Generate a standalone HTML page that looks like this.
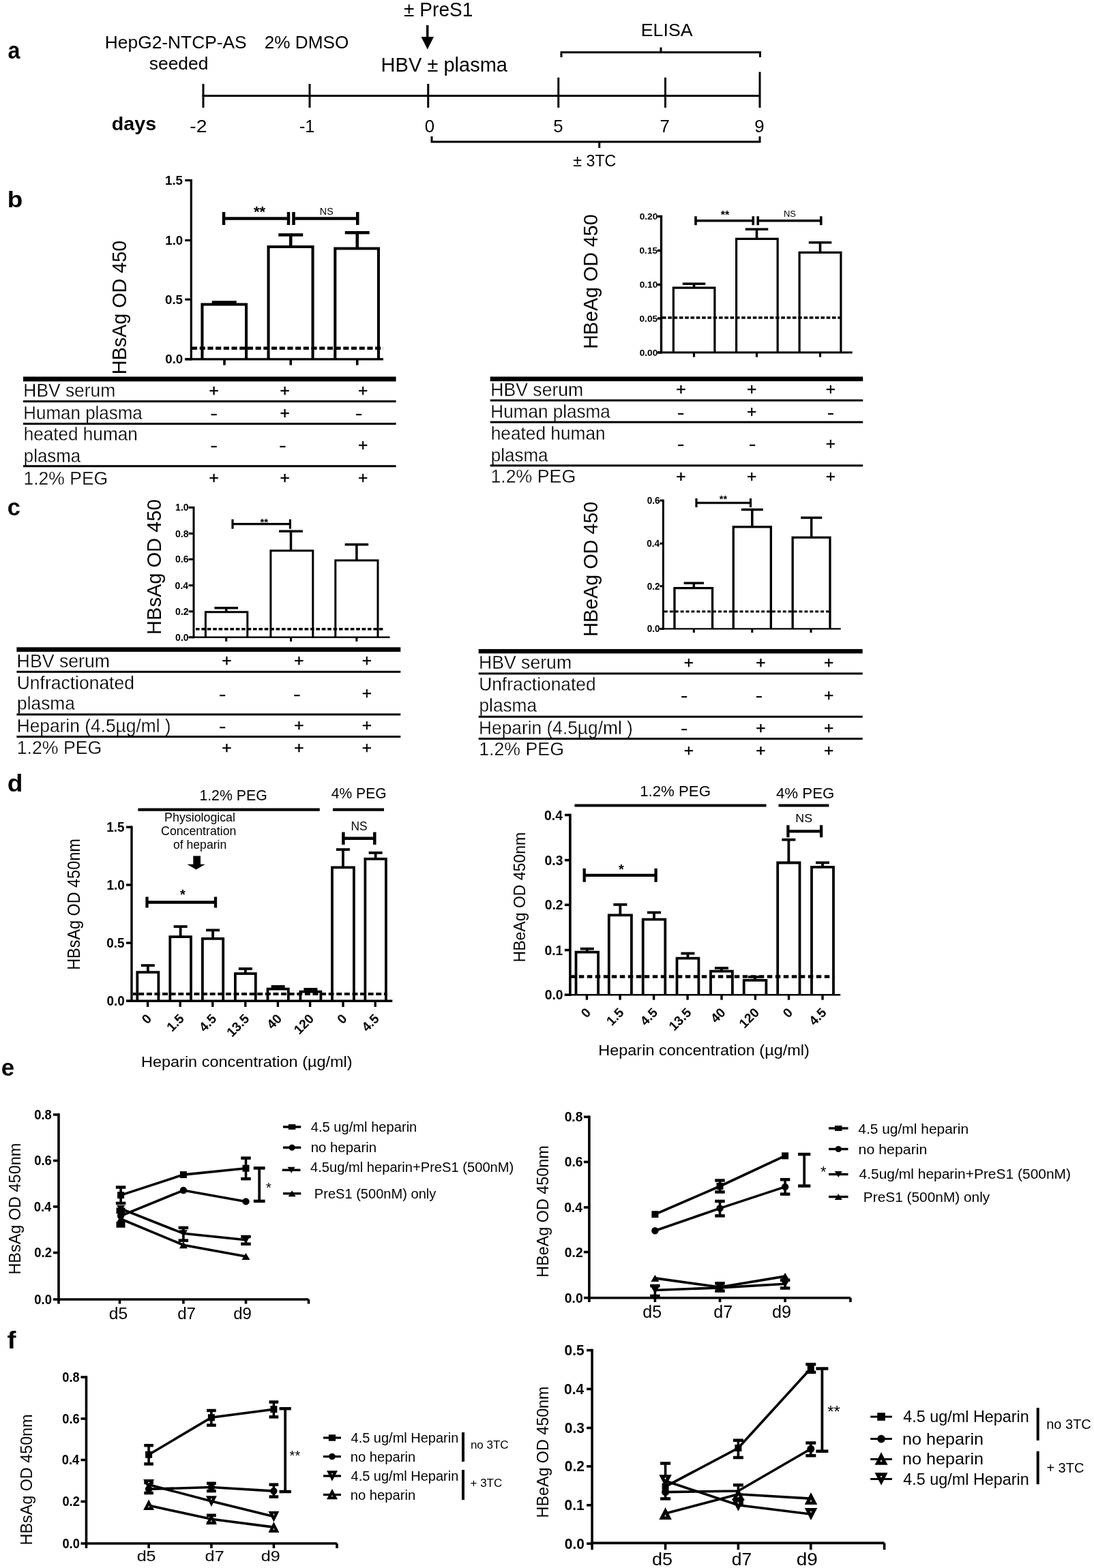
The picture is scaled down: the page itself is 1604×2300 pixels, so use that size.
<!DOCTYPE html>
<html><head><meta charset="utf-8"><title>Figure</title>
<style>
html,body{margin:0;padding:0;background:#fff;}
svg{display:block;}
svg text{font-family:"Liberation Sans",Arial,sans-serif;fill:#000;stroke:none;}
svg text.th{stroke:#fff;stroke-width:0.3px;paint-order:fill;}
svg text.pm{stroke:#000;stroke-width:0.4px;}
</style></head><body>
<svg width="1604" height="2300" viewBox="0 0 1604 2300" stroke="#000" stroke-linecap="butt">
<rect x="0" y="0" width="1604" height="2300" fill="#fff" stroke="none"/>
<text x="11.45" y="85.76" font-size="34.86" font-weight="bold" textLength="17.94" lengthAdjust="spacingAndGlyphs" >a</text>
<text x="153.84" y="70.75" font-size="25.8" textLength="207.87" lengthAdjust="spacingAndGlyphs" >HepG2-NTCP-AS</text>
<text x="218.76" y="101.75" font-size="25.8" textLength="86.69" lengthAdjust="spacingAndGlyphs" >seeded</text>
<text x="387.68" y="70.50" font-size="25.8" textLength="123.57" lengthAdjust="spacingAndGlyphs" >2% DMSO</text>
<text x="592.11" y="24.25" font-size="28.7" textLength="101.26" lengthAdjust="spacingAndGlyphs" >± PreS1</text>
<text x="558.62" y="104.50" font-size="29" textLength="185.38" lengthAdjust="spacingAndGlyphs" >HBV ± plasma</text>
<text x="163.82" y="191.00" font-size="27.5" font-weight="bold" textLength="65.35" lengthAdjust="spacingAndGlyphs" >days</text>
<text x="278.24" y="193.75" font-size="25.8" textLength="25.18" lengthAdjust="spacingAndGlyphs" >-2</text>
<text x="438.88" y="193.75" font-size="25.8" textLength="22.34" lengthAdjust="spacingAndGlyphs" >-1</text>
<text x="622.83" y="193.75" font-size="25.8" >0</text>
<text x="811.35" y="193.75" font-size="25.8" >5</text>
<text x="967.41" y="193.75" font-size="25.8" >7</text>
<text x="1106.33" y="193.75" font-size="25.8" >9</text>
<text x="939.81" y="53.25" font-size="25.4" textLength="75.74" lengthAdjust="spacingAndGlyphs" >ELISA</text>
<text x="840.26" y="243.75" font-size="24.3" textLength="63.12" lengthAdjust="spacingAndGlyphs" >± 3TC</text>
<text x="10.67" y="304.47" font-size="33.91" font-weight="bold" textLength="22.55" lengthAdjust="spacingAndGlyphs" >b</text>
<text x="242.02" y="270.84" font-size="18.7" font-weight="bold" >1.5</text>
<text x="242.27" y="358.94" font-size="18.7" font-weight="bold" >1.0</text>
<text x="242.02" y="445.69" font-size="18.7" font-weight="bold" >0.5</text>
<text x="242.27" y="533.34" font-size="18.7" font-weight="bold" >0.0</text>
<text x="372.02" y="317.94" font-size="22" font-weight="bold" >**</text>
<text x="468.83" y="314.50" font-size="14.5" textLength="19.83" lengthAdjust="spacingAndGlyphs" >NS</text>
<text class="v" transform="translate(184.70,546.90) rotate(-90)" x="-2.36" y="0" font-size="29.9" textLength="196.48" lengthAdjust="spacingAndGlyphs">HBsAg OD 450</text>
<text class="th" x="34.34" y="581.90" font-size="27.3" textLength="134.90" lengthAdjust="spacingAndGlyphs" >HBV serum</text>
<text class="th" x="34.37" y="614.75" font-size="27.3" textLength="174.38" lengthAdjust="spacingAndGlyphs" >Human plasma</text>
<text class="th" x="34.69" y="646.25" font-size="27.3" textLength="167.01" lengthAdjust="spacingAndGlyphs" >heated human</text>
<text class="th" x="34.84" y="677.50" font-size="27.3" textLength="83.16" lengthAdjust="spacingAndGlyphs" >plasma</text>
<text class="th" x="34.48" y="710.70" font-size="27.3" textLength="123.75" lengthAdjust="spacingAndGlyphs" >1.2% PEG</text>
<text class="pm" x="306.45" y="581.35" font-size="24.5">+</text>
<text class="pm" x="306.45" y="708.85" font-size="24.5">+</text>
<text class="pm" x="410.55" y="581.35" font-size="24.5">+</text>
<text class="pm" x="410.55" y="708.85" font-size="24.5">+</text>
<text class="pm" x="525.05" y="581.35" font-size="24.5">+</text>
<text class="pm" x="525.05" y="708.85" font-size="24.5">+</text>
<text class="pm" x="308.42" y="614.31" font-size="24.5" textLength="10.37" lengthAdjust="spacingAndGlyphs">-</text>
<text class="pm" x="410.55" y="613.75" font-size="24.5">+</text>
<text class="pm" x="520.92" y="614.31" font-size="24.5" textLength="10.37" lengthAdjust="spacingAndGlyphs">-</text>
<text class="pm" x="308.42" y="660.81" font-size="24.5" textLength="10.37" lengthAdjust="spacingAndGlyphs">-</text>
<text class="pm" x="409.22" y="660.81" font-size="24.5" textLength="10.37" lengthAdjust="spacingAndGlyphs">-</text>
<text class="pm" x="525.05" y="660.75" font-size="24.5">+</text>
<text x="937.65" y="322.22" font-size="13.7" font-weight="bold" >0.20</text>
<text x="937.47" y="372.22" font-size="13.7" font-weight="bold" >0.15</text>
<text x="937.65" y="422.22" font-size="13.7" font-weight="bold" >0.10</text>
<text x="937.47" y="471.72" font-size="13.7" font-weight="bold" >0.05</text>
<text x="937.65" y="521.72" font-size="13.7" font-weight="bold" >0.00</text>
<text x="1056.66" y="321.03" font-size="16" font-weight="bold" >**</text>
<text x="1148.94" y="318.00" font-size="13" textLength="17.90" lengthAdjust="spacingAndGlyphs" >NS</text>
<text class="v" transform="translate(875.80,509.50) rotate(-90)" x="-2.35" y="0" font-size="29.8" textLength="197.47" lengthAdjust="spacingAndGlyphs">HBeAg OD 450</text>
<text class="th" x="719.32" y="581.20" font-size="27.3" textLength="135.93" lengthAdjust="spacingAndGlyphs" >HBV serum</text>
<text class="th" x="719.36" y="613.40" font-size="27.3" textLength="175.44" lengthAdjust="spacingAndGlyphs" >Human plasma</text>
<text class="th" x="719.68" y="645.20" font-size="27.3" textLength="168.03" lengthAdjust="spacingAndGlyphs" >heated human</text>
<text class="th" x="719.83" y="676.60" font-size="27.3" textLength="83.67" lengthAdjust="spacingAndGlyphs" >plasma</text>
<text class="th" x="719.47" y="707.80" font-size="27.3" textLength="124.73" lengthAdjust="spacingAndGlyphs" >1.2% PEG</text>
<text class="pm" x="991.15" y="579.35" font-size="24.5">+</text>
<text class="pm" x="991.15" y="706.85" font-size="24.5">+</text>
<text class="pm" x="1095.05" y="579.35" font-size="24.5">+</text>
<text class="pm" x="1095.05" y="706.85" font-size="24.5">+</text>
<text class="pm" x="1210.85" y="579.35" font-size="24.5">+</text>
<text class="pm" x="1210.85" y="706.85" font-size="24.5">+</text>
<text class="pm" x="993.12" y="612.61" font-size="24.5" textLength="10.37" lengthAdjust="spacingAndGlyphs">-</text>
<text class="pm" x="1095.05" y="612.35" font-size="24.5">+</text>
<text class="pm" x="1212.82" y="612.61" font-size="24.5" textLength="10.37" lengthAdjust="spacingAndGlyphs">-</text>
<text class="pm" x="993.12" y="659.41" font-size="24.5" textLength="10.37" lengthAdjust="spacingAndGlyphs">-</text>
<text class="pm" x="1098.12" y="659.41" font-size="24.5" textLength="10.37" lengthAdjust="spacingAndGlyphs">-</text>
<text class="pm" x="1210.85" y="659.15" font-size="24.5">+</text>
<text x="10.85" y="756.16" font-size="34.5" font-weight="bold" textLength="19.15" lengthAdjust="spacingAndGlyphs" >c</text>
<text x="257.12" y="749.46" font-size="14.7" font-weight="bold" textLength="19.45" lengthAdjust="spacingAndGlyphs" >1.0</text>
<text x="256.98" y="787.66" font-size="14.7" font-weight="bold" textLength="19.45" lengthAdjust="spacingAndGlyphs" >0.8</text>
<text x="257.05" y="825.46" font-size="14.7" font-weight="bold" textLength="19.45" lengthAdjust="spacingAndGlyphs" >0.6</text>
<text x="256.62" y="863.76" font-size="14.7" font-weight="bold" textLength="19.45" lengthAdjust="spacingAndGlyphs" >0.4</text>
<text x="257.11" y="901.96" font-size="14.7" font-weight="bold" textLength="19.45" lengthAdjust="spacingAndGlyphs" >0.2</text>
<text x="257.12" y="939.86" font-size="14.7" font-weight="bold" textLength="19.45" lengthAdjust="spacingAndGlyphs" >0.0</text>
<text x="381.45" y="770.63" font-size="15" font-weight="bold" >**</text>
<text class="v" transform="translate(235.80,928.50) rotate(-90)" x="-2.38" y="0" font-size="29.5" textLength="198.41" lengthAdjust="spacingAndGlyphs">HBsAg OD 450</text>
<text class="th" x="24.61" y="978.60" font-size="27.3" textLength="136.45" lengthAdjust="spacingAndGlyphs" >HBV serum</text>
<text class="th" x="24.76" y="1010.50" font-size="27.3" textLength="172.15" lengthAdjust="spacingAndGlyphs" >Unfractionated</text>
<text class="th" x="25.11" y="1041.40" font-size="27.3" textLength="84.69" lengthAdjust="spacingAndGlyphs" >plasma</text>
<text class="th" x="24.64" y="1073.70" font-size="27.3" textLength="225.99" lengthAdjust="spacingAndGlyphs" >Heparin (4.5µg/ml )</text>
<text class="th" x="24.77" y="1106.30" font-size="27.3" textLength="124.42" lengthAdjust="spacingAndGlyphs" >1.2% PEG</text>
<text class="pm" x="325.35" y="977.35" font-size="24.5">+</text>
<text class="pm" x="325.35" y="1104.85" font-size="24.5">+</text>
<text class="pm" x="431.35" y="977.35" font-size="24.5">+</text>
<text class="pm" x="431.35" y="1104.85" font-size="24.5">+</text>
<text class="pm" x="530.75" y="977.35" font-size="24.5">+</text>
<text class="pm" x="530.75" y="1104.85" font-size="24.5">+</text>
<text class="pm" x="320.92" y="1026.41" font-size="24.5" textLength="10.37" lengthAdjust="spacingAndGlyphs">-</text>
<text class="pm" x="430.32" y="1026.41" font-size="24.5" textLength="10.37" lengthAdjust="spacingAndGlyphs">-</text>
<text class="pm" x="530.75" y="1025.35" font-size="24.5">+</text>
<text class="pm" x="320.92" y="1073.21" font-size="24.5" textLength="10.37" lengthAdjust="spacingAndGlyphs">-</text>
<text class="pm" x="431.35" y="1072.25" font-size="24.5">+</text>
<text class="pm" x="530.75" y="1072.25" font-size="24.5">+</text>
<text x="948.67" y="739.26" font-size="14.7" font-weight="bold" textLength="18.82" lengthAdjust="spacingAndGlyphs" >0.6</text>
<text x="948.25" y="802.26" font-size="14.7" font-weight="bold" textLength="18.82" lengthAdjust="spacingAndGlyphs" >0.4</text>
<text x="948.72" y="864.86" font-size="14.7" font-weight="bold" textLength="18.82" lengthAdjust="spacingAndGlyphs" >0.2</text>
<text x="948.73" y="927.46" font-size="14.7" font-weight="bold" textLength="18.82" lengthAdjust="spacingAndGlyphs" >0.0</text>
<text x="1054.74" y="736.78" font-size="14.5" font-weight="bold" >**</text>
<text class="v" transform="translate(875.80,931.40) rotate(-90)" x="-2.36" y="0" font-size="29.8" textLength="197.88" lengthAdjust="spacingAndGlyphs">HBeAg OD 450</text>
<text class="th" x="702.02" y="981.10" font-size="27.3" textLength="136.04" lengthAdjust="spacingAndGlyphs" >HBV serum</text>
<text class="th" x="702.17" y="1013.00" font-size="27.3" textLength="171.53" lengthAdjust="spacingAndGlyphs" >Unfractionated</text>
<text class="th" x="702.51" y="1044.30" font-size="27.3" textLength="84.49" lengthAdjust="spacingAndGlyphs" >plasma</text>
<text class="th" x="702.04" y="1076.50" font-size="27.3" textLength="225.79" lengthAdjust="spacingAndGlyphs" >Heparin (4.5µg/ml )</text>
<text class="th" x="702.16" y="1108.40" font-size="27.3" textLength="124.83" lengthAdjust="spacingAndGlyphs" >1.2% PEG</text>
<text class="pm" x="1002.65" y="980.35" font-size="24.5">+</text>
<text class="pm" x="1002.65" y="1108.55" font-size="24.5">+</text>
<text class="pm" x="1108.35" y="980.35" font-size="24.5">+</text>
<text class="pm" x="1108.35" y="1108.55" font-size="24.5">+</text>
<text class="pm" x="1208.05" y="980.35" font-size="24.5">+</text>
<text class="pm" x="1208.05" y="1108.55" font-size="24.5">+</text>
<text class="pm" x="997.92" y="1028.21" font-size="24.5" textLength="10.37" lengthAdjust="spacingAndGlyphs">-</text>
<text class="pm" x="1107.72" y="1028.21" font-size="24.5" textLength="10.37" lengthAdjust="spacingAndGlyphs">-</text>
<text class="pm" x="1208.05" y="1028.05" font-size="24.5">+</text>
<text class="pm" x="997.92" y="1076.21" font-size="24.5" textLength="10.37" lengthAdjust="spacingAndGlyphs">-</text>
<text class="pm" x="1108.35" y="1075.95" font-size="24.5">+</text>
<text class="pm" x="1208.05" y="1075.95" font-size="24.5">+</text>
<text x="10.68" y="1161.16" font-size="34.66" font-weight="bold" textLength="22.67" lengthAdjust="spacingAndGlyphs" >d</text>
<text x="156.13" y="1219.81" font-size="19.5" font-weight="bold" textLength="26.29" lengthAdjust="spacingAndGlyphs" >1.5</text>
<text x="156.38" y="1304.71" font-size="19.5" font-weight="bold" textLength="26.29" lengthAdjust="spacingAndGlyphs" >1.0</text>
<text x="156.13" y="1389.81" font-size="19.5" font-weight="bold" textLength="26.29" lengthAdjust="spacingAndGlyphs" >0.5</text>
<text x="156.38" y="1475.01" font-size="19.5" font-weight="bold" textLength="26.29" lengthAdjust="spacingAndGlyphs" >0.0</text>
<text transform="rotate(-45 223.40 1495.50)" x="223.40" y="1495.50" font-size="19.2" font-weight="bold" text-anchor="end">0</text>
<text transform="rotate(-45 271.00 1495.50)" x="271.00" y="1495.50" font-size="19.2" font-weight="bold" text-anchor="end">1.5</text>
<text transform="rotate(-45 318.60 1495.50)" x="318.60" y="1495.50" font-size="19.2" font-weight="bold" text-anchor="end">4.5</text>
<text transform="rotate(-45 366.60 1495.50)" x="366.60" y="1495.50" font-size="19.2" font-weight="bold" text-anchor="end">13.5</text>
<text transform="rotate(-45 414.20 1495.50)" x="414.20" y="1495.50" font-size="19.2" font-weight="bold" text-anchor="end">40</text>
<text transform="rotate(-45 461.40 1495.50)" x="461.40" y="1495.50" font-size="19.2" font-weight="bold" text-anchor="end">120</text>
<text transform="rotate(-45 509.80 1495.50)" x="509.80" y="1495.50" font-size="19.2" font-weight="bold" text-anchor="end">0</text>
<text transform="rotate(-45 557.00 1495.50)" x="557.00" y="1495.50" font-size="19.2" font-weight="bold" text-anchor="end">4.5</text>
<text x="264.09" y="1319.24" font-size="20" font-weight="bold" >*</text>
<text x="514.48" y="1218.40" font-size="18" textLength="24.12" lengthAdjust="spacingAndGlyphs" >NS</text>
<text x="292.38" y="1174.10" font-size="21.2" textLength="99.31" lengthAdjust="spacingAndGlyphs" >1.2% PEG</text>
<text x="485.82" y="1171.30" font-size="21.2" textLength="80.76" lengthAdjust="spacingAndGlyphs" >4% PEG</text>
<text x="241.14" y="1204.50" font-size="17.5" textLength="103.85" lengthAdjust="spacingAndGlyphs" >Physiological</text>
<text x="236.10" y="1225.00" font-size="17.5" textLength="110.25" lengthAdjust="spacingAndGlyphs" >Concentration</text>
<text x="253.96" y="1245.20" font-size="17.5" textLength="78.28" lengthAdjust="spacingAndGlyphs" >of heparin</text>
<text x="206.97" y="1564.70" font-size="22.5" textLength="309.68" lengthAdjust="spacingAndGlyphs" >Heparin concentration (µg/ml)</text>
<text class="v" transform="translate(116.70,1420.90) rotate(-90)" x="-1.92" y="0" font-size="24.9" textLength="192.46" lengthAdjust="spacingAndGlyphs">HBsAg OD 450nm</text>
<text x="797.99" y="1202.59" font-size="20.6" font-weight="bold" textLength="26.92" lengthAdjust="spacingAndGlyphs" >0.4</text>
<text x="798.58" y="1268.78" font-size="20.6" font-weight="bold" textLength="26.92" lengthAdjust="spacingAndGlyphs" >0.3</text>
<text x="798.66" y="1334.39" font-size="20.6" font-weight="bold" textLength="26.92" lengthAdjust="spacingAndGlyphs" >0.2</text>
<text x="798.42" y="1400.69" font-size="20.6" font-weight="bold" textLength="26.92" lengthAdjust="spacingAndGlyphs" >0.1</text>
<text x="798.68" y="1466.29" font-size="20.6" font-weight="bold" textLength="26.92" lengthAdjust="spacingAndGlyphs" >0.0</text>
<text transform="rotate(-45 867.20 1486.50)" x="867.20" y="1486.50" font-size="19.2" font-weight="bold" text-anchor="end">0</text>
<text transform="rotate(-45 915.90 1486.50)" x="915.90" y="1486.50" font-size="19.2" font-weight="bold" text-anchor="end">1.5</text>
<text transform="rotate(-45 965.40 1486.50)" x="965.40" y="1486.50" font-size="19.2" font-weight="bold" text-anchor="end">4.5</text>
<text transform="rotate(-45 1014.90 1486.50)" x="1014.90" y="1486.50" font-size="19.2" font-weight="bold" text-anchor="end">13.5</text>
<text transform="rotate(-45 1064.80 1486.50)" x="1064.80" y="1486.50" font-size="19.2" font-weight="bold" text-anchor="end">40</text>
<text transform="rotate(-45 1114.20 1486.50)" x="1114.20" y="1486.50" font-size="19.2" font-weight="bold" text-anchor="end">120</text>
<text transform="rotate(-45 1163.30 1486.50)" x="1163.30" y="1486.50" font-size="19.2" font-weight="bold" text-anchor="end">0</text>
<text transform="rotate(-45 1212.80 1486.50)" x="1212.80" y="1486.50" font-size="19.2" font-weight="bold" text-anchor="end">4.5</text>
<text x="907.09" y="1282.04" font-size="20" font-weight="bold" >*</text>
<text x="1166.34" y="1205.50" font-size="17" textLength="24.67" lengthAdjust="spacingAndGlyphs" >NS</text>
<text x="938.21" y="1167.60" font-size="21.2" textLength="103.75" lengthAdjust="spacingAndGlyphs" >1.2% PEG</text>
<text x="1137.99" y="1171.30" font-size="21.2" textLength="85.37" lengthAdjust="spacingAndGlyphs" >4% PEG</text>
<text x="877.28" y="1548.40" font-size="22.5" textLength="309.58" lengthAdjust="spacingAndGlyphs" >Heparin concentration (µg/ml)</text>
<text class="v" transform="translate(769.70,1409.50) rotate(-90)" x="-1.89" y="0" font-size="24.6" textLength="190.50" lengthAdjust="spacingAndGlyphs">HBeAg OD 450nm</text>
<text x="1.84" y="1577.81" font-size="34.86" font-weight="bold" textLength="19.35" lengthAdjust="spacingAndGlyphs" >e</text>
<text x="50.17" y="1641.99" font-size="20.3" font-weight="bold" textLength="25.60" lengthAdjust="spacingAndGlyphs" >0.8</text>
<text x="50.27" y="1709.49" font-size="20.3" font-weight="bold" textLength="25.60" lengthAdjust="spacingAndGlyphs" >0.6</text>
<text x="49.70" y="1776.99" font-size="20.3" font-weight="bold" textLength="25.60" lengthAdjust="spacingAndGlyphs" >0.4</text>
<text x="50.34" y="1844.49" font-size="20.3" font-weight="bold" textLength="25.60" lengthAdjust="spacingAndGlyphs" >0.2</text>
<text x="50.36" y="1912.99" font-size="20.3" font-weight="bold" textLength="25.60" lengthAdjust="spacingAndGlyphs" >0.0</text>
<text x="159.87" y="1935.10" font-size="24.4" textLength="27.37" lengthAdjust="spacingAndGlyphs" >d5</text>
<text x="260.19" y="1935.10" font-size="24.4" textLength="26.83" lengthAdjust="spacingAndGlyphs" >d7</text>
<text x="342.29" y="1935.10" font-size="24.4" textLength="26.64" lengthAdjust="spacingAndGlyphs" >d9</text>
<text x="389.81" y="1749.26" font-size="21" >*</text>
<text x="455.79" y="1660.00" font-size="20.5" textLength="155.52" lengthAdjust="spacingAndGlyphs" >4.5 ug/ml heparin</text>
<text x="455.65" y="1690.00" font-size="20.5" textLength="96.43" lengthAdjust="spacingAndGlyphs" >no heparin</text>
<text x="455.04" y="1718.75" font-size="20.5" textLength="298.21" lengthAdjust="spacingAndGlyphs" >4.5ug/ml heparin+PreS1 (500nM)</text>
<text x="460.85" y="1757.50" font-size="20.5" textLength="178.44" lengthAdjust="spacingAndGlyphs" >PreS1 (500nM) only</text>
<text class="v" transform="translate(29.70,1867.70) rotate(-90)" x="-1.92" y="0" font-size="24.6" textLength="192.87" lengthAdjust="spacingAndGlyphs">HBsAg OD 450nm</text>
<text x="827.63" y="1645.39" font-size="20.6" font-weight="bold" textLength="26.86" lengthAdjust="spacingAndGlyphs" >0.8</text>
<text x="827.74" y="1711.49" font-size="20.6" font-weight="bold" textLength="26.86" lengthAdjust="spacingAndGlyphs" >0.6</text>
<text x="827.14" y="1778.09" font-size="20.6" font-weight="bold" textLength="26.86" lengthAdjust="spacingAndGlyphs" >0.4</text>
<text x="827.81" y="1843.69" font-size="20.6" font-weight="bold" textLength="26.86" lengthAdjust="spacingAndGlyphs" >0.2</text>
<text x="827.83" y="1910.79" font-size="20.6" font-weight="bold" textLength="26.86" lengthAdjust="spacingAndGlyphs" >0.0</text>
<text x="942.25" y="1933.10" font-size="24.9" textLength="27.80" lengthAdjust="spacingAndGlyphs" >d5</text>
<text x="1046.35" y="1933.10" font-size="24.9" textLength="27.81" lengthAdjust="spacingAndGlyphs" >d7</text>
<text x="1131.94" y="1933.10" font-size="24.9" textLength="28.05" lengthAdjust="spacingAndGlyphs" >d9</text>
<text x="1203.01" y="1725.97" font-size="22" >*</text>
<text x="1258.27" y="1662.50" font-size="20.5" textLength="161.84" lengthAdjust="spacingAndGlyphs" >4.5 ug/ml heparin</text>
<text x="1258.58" y="1692.50" font-size="20.5" textLength="100.80" lengthAdjust="spacingAndGlyphs" >no heparin</text>
<text x="1259.52" y="1728.75" font-size="20.5" textLength="310.53" lengthAdjust="spacingAndGlyphs" >4.5ug/ml heparin+PreS1 (500nM)</text>
<text x="1265.79" y="1762.50" font-size="20.5" textLength="185.50" lengthAdjust="spacingAndGlyphs" >PreS1 (500nM) only</text>
<text class="v" transform="translate(804.30,1871.80) rotate(-90)" x="-1.92" y="0" font-size="24.4" textLength="193.35" lengthAdjust="spacingAndGlyphs">HBeAg OD 450nm</text>
<text x="10.53" y="1977.60" font-size="34.64" font-weight="bold" textLength="12.99" lengthAdjust="spacingAndGlyphs" >f</text>
<text x="91.27" y="2026.75" font-size="19.6" font-weight="bold" textLength="25.39" lengthAdjust="spacingAndGlyphs" >0.8</text>
<text x="91.37" y="2087.75" font-size="19.6" font-weight="bold" textLength="25.39" lengthAdjust="spacingAndGlyphs" >0.6</text>
<text x="90.80" y="2148.25" font-size="19.6" font-weight="bold" textLength="25.39" lengthAdjust="spacingAndGlyphs" >0.4</text>
<text x="91.44" y="2209.25" font-size="19.6" font-weight="bold" textLength="25.39" lengthAdjust="spacingAndGlyphs" >0.2</text>
<text x="91.46" y="2270.75" font-size="19.6" font-weight="bold" textLength="25.39" lengthAdjust="spacingAndGlyphs" >0.0</text>
<text x="200.65" y="2290.40" font-size="21.2" textLength="27.91" lengthAdjust="spacingAndGlyphs" >d5</text>
<text x="300.64" y="2290.40" font-size="21.2" textLength="28.13" lengthAdjust="spacingAndGlyphs" >d7</text>
<text x="382.69" y="2290.40" font-size="21.2" textLength="28.00" lengthAdjust="spacingAndGlyphs" >d9</text>
<text x="424.61" y="2142.05" font-size="20" >**</text>
<text x="514.54" y="2116.00" font-size="20.5" textLength="157.76" lengthAdjust="spacingAndGlyphs" >4.5 ug/ml Heparin</text>
<text x="513.66" y="2143.50" font-size="20.5" textLength="95.66" lengthAdjust="spacingAndGlyphs" >no heparin</text>
<text x="514.54" y="2172.00" font-size="20.5" textLength="157.76" lengthAdjust="spacingAndGlyphs" >4.5 ug/ml Heparin</text>
<text x="513.66" y="2199.50" font-size="20.5" textLength="95.66" lengthAdjust="spacingAndGlyphs" >no heparin</text>
<text x="689.89" y="2124.85" font-size="17" >no 3TC</text>
<text x="689.53" y="2180.85" font-size="17" >+ 3TC</text>
<text class="v" transform="translate(46.90,2264.50) rotate(-90)" x="-1.91" y="0" font-size="24" textLength="191.95" lengthAdjust="spacingAndGlyphs">HBsAg OD 450nm</text>
<text x="827.57" y="1987.90" font-size="21.2" font-weight="bold" textLength="29.12" lengthAdjust="spacingAndGlyphs" >0.5</text>
<text x="827.10" y="2044.80" font-size="21.2" font-weight="bold" textLength="29.12" lengthAdjust="spacingAndGlyphs" >0.4</text>
<text x="827.74" y="2101.78" font-size="21.2" font-weight="bold" textLength="29.12" lengthAdjust="spacingAndGlyphs" >0.3</text>
<text x="827.82" y="2158.20" font-size="21.2" font-weight="bold" textLength="29.12" lengthAdjust="spacingAndGlyphs" >0.2</text>
<text x="827.57" y="2215.10" font-size="21.2" font-weight="bold" textLength="29.12" lengthAdjust="spacingAndGlyphs" >0.1</text>
<text x="827.84" y="2271.50" font-size="21.2" font-weight="bold" textLength="29.12" lengthAdjust="spacingAndGlyphs" >0.0</text>
<text x="956.06" y="2295.80" font-size="25.4" textLength="30.07" lengthAdjust="spacingAndGlyphs" >d5</text>
<text x="1072.89" y="2295.80" font-size="25.4" textLength="29.44" lengthAdjust="spacingAndGlyphs" >d7</text>
<text x="1167.83" y="2295.80" font-size="25.4" textLength="31.10" lengthAdjust="spacingAndGlyphs" >d9</text>
<text x="1213.15" y="2078.80" font-size="24" >**</text>
<text x="1324.16" y="2085.60" font-size="24.5" textLength="184.66" lengthAdjust="spacingAndGlyphs" >4.5 ug/ml Heparin</text>
<text x="1323.03" y="2118.70" font-size="24.5" textLength="119.11" lengthAdjust="spacingAndGlyphs" >no heparin</text>
<text x="1323.03" y="2147.70" font-size="24.5" textLength="119.11" lengthAdjust="spacingAndGlyphs" >no heparin</text>
<text x="1324.16" y="2177.70" font-size="24.5" textLength="184.66" lengthAdjust="spacingAndGlyphs" >4.5 ug/ml Heparin</text>
<text x="1534.22" y="2095.58" font-size="20" >no 3TC</text>
<text x="1534.38" y="2160.38" font-size="20" >+ 3TC</text>
<text class="v" transform="translate(804.30,2224.50) rotate(-90)" x="-1.91" y="0" font-size="24" textLength="192.85" lengthAdjust="spacingAndGlyphs">HBeAg OD 450nm</text>
<line x1="626.75" y1="37.00" x2="626.75" y2="56.00" stroke-width="3.5" />
<polygon points="617.5,54 636,54 626.75,72.5" fill="#000" stroke="none"/>
<line x1="296.50" y1="140.50" x2="1114.00" y2="140.50" stroke-width="3" />
<line x1="298.00" y1="123.00" x2="298.00" y2="158.00" stroke-width="3" />
<line x1="454.00" y1="123.00" x2="454.00" y2="158.00" stroke-width="3" />
<line x1="627.75" y1="123.00" x2="627.75" y2="158.00" stroke-width="3" />
<line x1="818.75" y1="113.75" x2="818.75" y2="158.00" stroke-width="3" />
<line x1="975.50" y1="113.75" x2="975.50" y2="158.00" stroke-width="3" />
<line x1="1114.00" y1="105.50" x2="1114.00" y2="158.00" stroke-width="3" />
<path d="M823,84 V76.75 H1114.5 V84" stroke-width="3" fill="none" />
<line x1="969.00" y1="76.75" x2="969.00" y2="69.50" stroke-width="3" />
<path d="M633,200 V208 H1114 V200" stroke-width="3" fill="none" />
<line x1="878.75" y1="208.00" x2="878.75" y2="217.00" stroke-width="3" />
<line x1="280.30" y1="262.90" x2="280.30" y2="528.50" stroke-width="3.2" />
<line x1="271.30" y1="264.50" x2="280.30" y2="264.50" stroke-width="3.2" />
<line x1="271.30" y1="352.50" x2="280.30" y2="352.50" stroke-width="3.2" />
<line x1="271.30" y1="439.25" x2="280.30" y2="439.25" stroke-width="3.2" />
<line x1="271.30" y1="526.90" x2="280.30" y2="526.90" stroke-width="3.2" />
<path d="M296.45,526.90 V446.55 H361.05 V526.90" stroke-width="4.1" fill="#fff" stroke-linejoin="miter"/>
<path d="M393.55,526.90 V362.05 H458.55 V526.90" stroke-width="4.1" fill="#fff" stroke-linejoin="miter"/>
<path d="M491.30,526.90 V364.55 H554.95 V526.90" stroke-width="4.1" fill="#fff" stroke-linejoin="miter"/>
<line x1="328.75" y1="446.00" x2="328.75" y2="443.50" stroke-width="4.5" />
<line x1="310.75" y1="443.50" x2="346.75" y2="443.50" stroke-width="4.5" />
<line x1="426.25" y1="362.00" x2="426.25" y2="344.50" stroke-width="4.5" />
<line x1="408.25" y1="344.50" x2="444.25" y2="344.50" stroke-width="4.5" />
<line x1="523.75" y1="364.50" x2="523.75" y2="341.25" stroke-width="4.5" />
<line x1="505.75" y1="341.25" x2="541.75" y2="341.25" stroke-width="4.5" />
<line x1="281.00" y1="510.80" x2="562.00" y2="510.80" stroke-width="4.6" stroke-dasharray="8.1,3.6"/>
<line x1="271.25" y1="526.90" x2="562.00" y2="526.90" stroke-width="3.25" />
<line x1="329.00" y1="528.00" x2="329.00" y2="535.60" stroke-width="3.6" />
<line x1="426.25" y1="528.00" x2="426.25" y2="535.60" stroke-width="3.6" />
<line x1="523.75" y1="528.00" x2="523.75" y2="535.60" stroke-width="3.6" />
<line x1="328.00" y1="320.50" x2="423.00" y2="320.50" stroke-width="4.5" />
<line x1="328.00" y1="311.00" x2="328.00" y2="330.00" stroke-width="4.5" />
<line x1="423.00" y1="311.00" x2="423.00" y2="330.00" stroke-width="4.5" />
<line x1="430.50" y1="320.50" x2="524.25" y2="320.50" stroke-width="4.5" />
<line x1="430.50" y1="311.00" x2="430.50" y2="330.00" stroke-width="4.5" />
<line x1="524.25" y1="311.00" x2="524.25" y2="330.00" stroke-width="4.5" />
<rect x="34.00" y="552.50" width="546.60" height="7.00" stroke="none" fill="#000"/>
<rect x="34.00" y="587.25" width="546.60" height="3.00" stroke="none" fill="#000"/>
<rect x="34.00" y="620.10" width="546.60" height="3.00" stroke="none" fill="#000"/>
<rect x="34.00" y="682.25" width="546.60" height="3.00" stroke="none" fill="#000"/>
<line x1="969.50" y1="315.80" x2="969.50" y2="518.70" stroke-width="3.4" />
<line x1="964.00" y1="317.50" x2="969.50" y2="317.50" stroke-width="3.4" />
<line x1="964.00" y1="367.50" x2="969.50" y2="367.50" stroke-width="3.4" />
<line x1="964.00" y1="417.50" x2="969.50" y2="417.50" stroke-width="3.4" />
<line x1="964.00" y1="467.00" x2="969.50" y2="467.00" stroke-width="3.4" />
<line x1="964.00" y1="517.00" x2="969.50" y2="517.00" stroke-width="3.4" />
<path d="M987.35,517.00 V422.10 H1047.90 V517.00" stroke-width="3.2" fill="#fff" stroke-linejoin="miter"/>
<path d="M1079.60,517.00 V350.35 H1140.15 V517.00" stroke-width="3.2" fill="#fff" stroke-linejoin="miter"/>
<path d="M1172.10,517.00 V370.35 H1232.90 V517.00" stroke-width="3.2" fill="#fff" stroke-linejoin="miter"/>
<line x1="1017.50" y1="422.00" x2="1017.50" y2="416.25" stroke-width="3.6" />
<line x1="1000.75" y1="416.25" x2="1034.25" y2="416.25" stroke-width="3.6" />
<line x1="1109.50" y1="350.00" x2="1109.50" y2="336.25" stroke-width="3.6" />
<line x1="1092.75" y1="336.25" x2="1126.25" y2="336.25" stroke-width="3.6" />
<line x1="1202.50" y1="370.00" x2="1202.50" y2="355.75" stroke-width="3.6" />
<line x1="1185.75" y1="355.75" x2="1219.25" y2="355.75" stroke-width="3.6" />
<line x1="971.00" y1="466.00" x2="1236.00" y2="466.00" stroke-width="3.4" stroke-dasharray="5.6,2.7"/>
<line x1="964.00" y1="517.00" x2="1249.70" y2="517.00" stroke-width="2.8" />
<line x1="1017.50" y1="518.00" x2="1017.50" y2="523.75" stroke-width="3.2" />
<line x1="1109.50" y1="518.00" x2="1109.50" y2="523.75" stroke-width="3.2" />
<line x1="1202.50" y1="518.00" x2="1202.50" y2="523.75" stroke-width="3.2" />
<line x1="1020.00" y1="323.75" x2="1104.25" y2="323.75" stroke-width="3.6" />
<line x1="1020.00" y1="317.25" x2="1020.00" y2="330.25" stroke-width="3.6" />
<line x1="1104.25" y1="317.25" x2="1104.25" y2="330.25" stroke-width="3.6" />
<line x1="1111.25" y1="323.75" x2="1203.75" y2="323.75" stroke-width="3.6" />
<line x1="1111.25" y1="317.25" x2="1111.25" y2="330.25" stroke-width="3.6" />
<line x1="1203.75" y1="317.25" x2="1203.75" y2="330.25" stroke-width="3.6" />
<rect x="718.70" y="552.50" width="546.50" height="6.70" stroke="none" fill="#000"/>
<rect x="718.70" y="585.80" width="546.50" height="3.00" stroke="none" fill="#000"/>
<rect x="718.70" y="617.70" width="546.50" height="3.00" stroke="none" fill="#000"/>
<rect x="718.70" y="681.40" width="546.50" height="3.00" stroke="none" fill="#000"/>
<line x1="284.00" y1="742.90" x2="284.00" y2="936.30" stroke-width="3" />
<line x1="276.50" y1="744.40" x2="284.00" y2="744.40" stroke-width="3" />
<line x1="276.50" y1="782.60" x2="284.00" y2="782.60" stroke-width="3" />
<line x1="276.50" y1="820.40" x2="284.00" y2="820.40" stroke-width="3" />
<line x1="276.50" y1="858.70" x2="284.00" y2="858.70" stroke-width="3" />
<line x1="276.50" y1="896.90" x2="284.00" y2="896.90" stroke-width="3" />
<line x1="276.50" y1="934.80" x2="284.00" y2="934.80" stroke-width="3" />
<path d="M301.40,934.80 V897.70 H362.80 V934.80" stroke-width="3.0" fill="#fff" stroke-linejoin="miter"/>
<path d="M396.90,934.80 V807.70 H458.80 V934.80" stroke-width="3.0" fill="#fff" stroke-linejoin="miter"/>
<path d="M491.80,934.80 V821.90 H554.00 V934.80" stroke-width="3.0" fill="#fff" stroke-linejoin="miter"/>
<line x1="331.70" y1="898.00" x2="331.70" y2="891.70" stroke-width="3.5" />
<line x1="314.45" y1="891.70" x2="348.95" y2="891.70" stroke-width="3.5" />
<line x1="426.50" y1="808.00" x2="426.50" y2="779.20" stroke-width="3.5" />
<line x1="409.10" y1="779.20" x2="443.90" y2="779.20" stroke-width="3.5" />
<line x1="522.90" y1="822.00" x2="522.90" y2="798.70" stroke-width="3.5" />
<line x1="505.65" y1="798.70" x2="540.15" y2="798.70" stroke-width="3.5" />
<line x1="287.00" y1="922.80" x2="562.20" y2="922.80" stroke-width="3.4" stroke-dasharray="5.6,2.8"/>
<line x1="277.40" y1="934.80" x2="571.60" y2="934.80" stroke-width="2.4" />
<line x1="331.70" y1="935.50" x2="331.70" y2="941.00" stroke-width="3" />
<line x1="426.50" y1="935.50" x2="426.50" y2="941.00" stroke-width="3" />
<line x1="522.90" y1="935.50" x2="522.90" y2="941.00" stroke-width="3" />
<line x1="341.00" y1="768.70" x2="425.40" y2="768.70" stroke-width="3.2" />
<line x1="341.00" y1="761.70" x2="341.00" y2="775.70" stroke-width="3.2" />
<line x1="425.40" y1="761.70" x2="425.40" y2="775.70" stroke-width="3.2" />
<rect x="24.40" y="949.40" width="562.90" height="6.70" stroke="none" fill="#000"/>
<rect x="24.40" y="983.90" width="562.90" height="3.00" stroke="none" fill="#000"/>
<rect x="24.40" y="1046.50" width="562.90" height="3.00" stroke="none" fill="#000"/>
<rect x="24.40" y="1079.10" width="562.90" height="3.00" stroke="none" fill="#000"/>
<line x1="972.40" y1="732.70" x2="972.40" y2="923.90" stroke-width="3" />
<line x1="967.40" y1="734.20" x2="972.40" y2="734.20" stroke-width="3" />
<line x1="967.40" y1="797.20" x2="972.40" y2="797.20" stroke-width="3" />
<line x1="967.40" y1="859.80" x2="972.40" y2="859.80" stroke-width="3" />
<line x1="967.40" y1="922.40" x2="972.40" y2="922.40" stroke-width="3" />
<path d="M988.95,922.40 V862.55 H1044.55 V922.40" stroke-width="3.3" fill="#fff" stroke-linejoin="miter"/>
<path d="M1075.25,922.40 V772.95 H1130.35 V922.40" stroke-width="3.3" fill="#fff" stroke-linejoin="miter"/>
<path d="M1162.15,922.40 V788.35 H1216.95 V922.40" stroke-width="3.3" fill="#fff" stroke-linejoin="miter"/>
<line x1="1017.30" y1="862.00" x2="1017.30" y2="855.30" stroke-width="3.5" />
<line x1="1002.65" y1="855.30" x2="1031.95" y2="855.30" stroke-width="3.5" />
<line x1="1102.80" y1="773.00" x2="1102.80" y2="747.40" stroke-width="3.5" />
<line x1="1086.90" y1="747.40" x2="1118.70" y2="747.40" stroke-width="3.5" />
<line x1="1189.70" y1="788.00" x2="1189.70" y2="759.40" stroke-width="3.5" />
<line x1="1174.15" y1="759.40" x2="1205.25" y2="759.40" stroke-width="3.5" />
<line x1="974.00" y1="897.00" x2="1217.90" y2="897.00" stroke-width="3.2" stroke-dasharray="4.9,3"/>
<line x1="967.40" y1="922.40" x2="1232.80" y2="922.40" stroke-width="2.4" />
<line x1="1017.30" y1="923.00" x2="1017.30" y2="928.00" stroke-width="3" />
<line x1="1102.80" y1="923.00" x2="1102.80" y2="928.00" stroke-width="3" />
<line x1="1189.00" y1="923.00" x2="1189.00" y2="928.00" stroke-width="3" />
<line x1="1021.00" y1="737.60" x2="1100.50" y2="737.60" stroke-width="3.2" />
<line x1="1021.00" y1="731.10" x2="1021.00" y2="744.10" stroke-width="3.2" />
<line x1="1100.50" y1="731.10" x2="1100.50" y2="744.10" stroke-width="3.2" />
<rect x="701.70" y="952.10" width="563.00" height="6.40" stroke="none" fill="#000"/>
<rect x="701.70" y="986.50" width="563.00" height="3.00" stroke="none" fill="#000"/>
<rect x="701.70" y="1049.80" width="563.00" height="3.00" stroke="none" fill="#000"/>
<rect x="701.70" y="1082.10" width="563.00" height="3.00" stroke="none" fill="#000"/>
<line x1="193.00" y1="1211.50" x2="193.00" y2="1470.00" stroke-width="3.4" />
<line x1="185.00" y1="1213.20" x2="193.00" y2="1213.20" stroke-width="3.4" />
<line x1="185.00" y1="1298.00" x2="193.00" y2="1298.00" stroke-width="3.4" />
<line x1="185.00" y1="1383.10" x2="193.00" y2="1383.10" stroke-width="3.4" />
<line x1="185.00" y1="1468.30" x2="193.00" y2="1468.30" stroke-width="3.4" />
<path d="M201.30,1468.30 V1426.20 H232.40 V1468.30" stroke-width="3.8" fill="#fff" stroke-linejoin="miter"/>
<line x1="216.85" y1="1426.30" x2="216.85" y2="1416.10" stroke-width="3.8" />
<line x1="206.85" y1="1416.10" x2="226.85" y2="1416.10" stroke-width="3.8" />
<path d="M249.30,1468.30 V1374.10 H280.00 V1468.30" stroke-width="3.8" fill="#fff" stroke-linejoin="miter"/>
<line x1="264.65" y1="1374.20" x2="264.65" y2="1359.10" stroke-width="3.8" />
<line x1="254.65" y1="1359.10" x2="274.65" y2="1359.10" stroke-width="3.8" />
<path d="M296.90,1468.30 V1376.80 H327.20 V1468.30" stroke-width="3.8" fill="#fff" stroke-linejoin="miter"/>
<line x1="312.05" y1="1376.90" x2="312.05" y2="1364.40" stroke-width="3.8" />
<line x1="302.05" y1="1364.40" x2="322.05" y2="1364.40" stroke-width="3.8" />
<path d="M344.90,1468.30 V1428.10 H374.80 V1468.30" stroke-width="3.8" fill="#fff" stroke-linejoin="miter"/>
<line x1="359.85" y1="1428.20" x2="359.85" y2="1421.00" stroke-width="3.8" />
<line x1="349.85" y1="1421.00" x2="369.85" y2="1421.00" stroke-width="3.8" />
<path d="M392.50,1468.30 V1450.60 H422.80 V1468.30" stroke-width="3.8" fill="#fff" stroke-linejoin="miter"/>
<line x1="407.65" y1="1450.70" x2="407.65" y2="1447.00" stroke-width="3.8" />
<line x1="397.65" y1="1447.00" x2="417.65" y2="1447.00" stroke-width="3.8" />
<path d="M440.40,1468.30 V1454.70 H470.40 V1468.30" stroke-width="3.8" fill="#fff" stroke-linejoin="miter"/>
<line x1="455.40" y1="1454.80" x2="455.40" y2="1451.00" stroke-width="3.8" />
<line x1="445.40" y1="1451.00" x2="465.40" y2="1451.00" stroke-width="3.8" />
<path d="M487.00,1468.30 V1272.40 H518.90 V1468.30" stroke-width="3.8" fill="#fff" stroke-linejoin="miter"/>
<line x1="502.95" y1="1272.50" x2="502.95" y2="1246.10" stroke-width="3.8" />
<line x1="492.95" y1="1246.10" x2="512.95" y2="1246.10" stroke-width="3.8" />
<path d="M535.40,1468.30 V1259.80 H565.90 V1468.30" stroke-width="3.8" fill="#fff" stroke-linejoin="miter"/>
<line x1="550.65" y1="1259.90" x2="550.65" y2="1250.90" stroke-width="3.8" />
<line x1="540.65" y1="1250.90" x2="560.65" y2="1250.90" stroke-width="3.8" />
<line x1="195.00" y1="1458.00" x2="567.80" y2="1458.00" stroke-width="3.8" stroke-dasharray="7.9,3.7" stroke-dashoffset="3.3"/>
<line x1="185.00" y1="1468.30" x2="575.30" y2="1468.30" stroke-width="3.4" />
<line x1="216.60" y1="1469.00" x2="216.60" y2="1477.00" stroke-width="3.4" />
<line x1="264.20" y1="1469.00" x2="264.20" y2="1477.00" stroke-width="3.4" />
<line x1="311.80" y1="1469.00" x2="311.80" y2="1477.00" stroke-width="3.4" />
<line x1="359.80" y1="1469.00" x2="359.80" y2="1477.00" stroke-width="3.4" />
<line x1="407.40" y1="1469.00" x2="407.40" y2="1477.00" stroke-width="3.4" />
<line x1="454.60" y1="1469.00" x2="454.60" y2="1477.00" stroke-width="3.4" />
<line x1="503.00" y1="1469.00" x2="503.00" y2="1477.00" stroke-width="3.4" />
<line x1="550.20" y1="1469.00" x2="550.20" y2="1477.00" stroke-width="3.4" />
<line x1="215.50" y1="1323.50" x2="316.00" y2="1323.50" stroke-width="4.3" />
<line x1="215.50" y1="1315.50" x2="215.50" y2="1331.50" stroke-width="4.3" />
<line x1="316.00" y1="1315.50" x2="316.00" y2="1331.50" stroke-width="4.3" />
<line x1="503.40" y1="1229.80" x2="549.30" y2="1229.80" stroke-width="4.5" />
<line x1="503.40" y1="1220.60" x2="503.40" y2="1239.00" stroke-width="4.5" />
<line x1="549.30" y1="1220.60" x2="549.30" y2="1239.00" stroke-width="4.5" />
<line x1="202.40" y1="1187.60" x2="468.80" y2="1187.60" stroke-width="4.2" />
<line x1="488.00" y1="1187.60" x2="563.00" y2="1187.60" stroke-width="4.2" />
<polygon points="283.3,1255.6 294,1255.6 294,1267.7 300.8,1267.7 287.6,1275.6 274.3,1267.7 283.3,1267.7" fill="#000" stroke="none"/>
<line x1="835.90" y1="1193.70" x2="835.90" y2="1461.00" stroke-width="3.6" />
<line x1="827.90" y1="1195.50" x2="835.90" y2="1195.50" stroke-width="3.6" />
<line x1="827.90" y1="1261.70" x2="835.90" y2="1261.70" stroke-width="3.6" />
<line x1="827.90" y1="1327.30" x2="835.90" y2="1327.30" stroke-width="3.6" />
<line x1="827.90" y1="1393.60" x2="835.90" y2="1393.60" stroke-width="3.6" />
<line x1="827.90" y1="1459.20" x2="835.90" y2="1459.20" stroke-width="3.6" />
<path d="M844.50,1459.20 V1396.60 H877.10 V1459.20" stroke-width="3.8" fill="#fff" stroke-linejoin="miter"/>
<line x1="860.80" y1="1396.70" x2="860.80" y2="1391.70" stroke-width="3.8" />
<line x1="850.80" y1="1391.70" x2="870.80" y2="1391.70" stroke-width="3.8" />
<path d="M892.80,1459.20 V1342.30 H925.90 V1459.20" stroke-width="3.8" fill="#fff" stroke-linejoin="miter"/>
<line x1="909.35" y1="1342.40" x2="909.35" y2="1326.90" stroke-width="3.8" />
<line x1="899.35" y1="1326.90" x2="919.35" y2="1326.90" stroke-width="3.8" />
<path d="M942.70,1459.20 V1348.70 H975.30 V1459.20" stroke-width="3.8" fill="#fff" stroke-linejoin="miter"/>
<line x1="959.00" y1="1348.80" x2="959.00" y2="1338.50" stroke-width="3.8" />
<line x1="949.00" y1="1338.50" x2="969.00" y2="1338.50" stroke-width="3.8" />
<path d="M992.50,1459.20 V1405.60 H1024.40 V1459.20" stroke-width="3.8" fill="#fff" stroke-linejoin="miter"/>
<line x1="1008.45" y1="1405.70" x2="1008.45" y2="1398.50" stroke-width="3.8" />
<line x1="998.45" y1="1398.50" x2="1018.45" y2="1398.50" stroke-width="3.8" />
<path d="M1042.00,1459.20 V1424.70 H1073.90 V1459.20" stroke-width="3.8" fill="#fff" stroke-linejoin="miter"/>
<line x1="1057.95" y1="1424.80" x2="1057.95" y2="1420.00" stroke-width="3.8" />
<line x1="1047.95" y1="1420.00" x2="1067.95" y2="1420.00" stroke-width="3.8" />
<path d="M1090.70,1459.20 V1437.90 H1123.40 V1459.20" stroke-width="3.8" fill="#fff" stroke-linejoin="miter"/>
<line x1="1107.05" y1="1438.00" x2="1107.05" y2="1433.00" stroke-width="3.8" />
<line x1="1097.05" y1="1433.00" x2="1117.05" y2="1433.00" stroke-width="3.8" />
<path d="M1140.20,1459.20 V1265.50 H1172.50 V1459.20" stroke-width="3.8" fill="#fff" stroke-linejoin="miter"/>
<line x1="1156.35" y1="1265.60" x2="1156.35" y2="1231.70" stroke-width="3.8" />
<line x1="1146.35" y1="1231.70" x2="1166.35" y2="1231.70" stroke-width="3.8" />
<path d="M1190.00,1459.20 V1271.80 H1222.00 V1459.20" stroke-width="3.8" fill="#fff" stroke-linejoin="miter"/>
<line x1="1206.00" y1="1271.90" x2="1206.00" y2="1265.40" stroke-width="3.8" />
<line x1="1196.00" y1="1265.40" x2="1216.00" y2="1265.40" stroke-width="3.8" />
<line x1="836.80" y1="1432.50" x2="1223.90" y2="1432.50" stroke-width="4.3" stroke-dasharray="7.5,4.5"/>
<line x1="827.70" y1="1459.20" x2="1232.20" y2="1459.20" stroke-width="2.6" />
<line x1="860.40" y1="1460.00" x2="860.40" y2="1466.70" stroke-width="3.4" />
<line x1="909.10" y1="1460.00" x2="909.10" y2="1466.70" stroke-width="3.4" />
<line x1="958.60" y1="1460.00" x2="958.60" y2="1466.70" stroke-width="3.4" />
<line x1="1008.10" y1="1460.00" x2="1008.10" y2="1466.70" stroke-width="3.4" />
<line x1="1058.00" y1="1460.00" x2="1058.00" y2="1466.70" stroke-width="3.4" />
<line x1="1107.40" y1="1460.00" x2="1107.40" y2="1466.70" stroke-width="3.4" />
<line x1="1156.50" y1="1460.00" x2="1156.50" y2="1466.70" stroke-width="3.4" />
<line x1="1206.00" y1="1460.00" x2="1206.00" y2="1466.70" stroke-width="3.4" />
<line x1="856.70" y1="1283.80" x2="961.60" y2="1283.80" stroke-width="4.3" />
<line x1="856.70" y1="1273.80" x2="856.70" y2="1293.80" stroke-width="4.3" />
<line x1="961.60" y1="1273.80" x2="961.60" y2="1293.80" stroke-width="4.3" />
<line x1="1155.40" y1="1219.30" x2="1204.10" y2="1219.30" stroke-width="4.3" />
<line x1="1155.40" y1="1210.30" x2="1155.40" y2="1228.30" stroke-width="4.3" />
<line x1="1204.10" y1="1210.30" x2="1204.10" y2="1228.30" stroke-width="4.3" />
<line x1="842.40" y1="1181.50" x2="1123.50" y2="1181.50" stroke-width="4.2" />
<line x1="1141.50" y1="1181.50" x2="1215.40" y2="1181.50" stroke-width="4.2" />
<line x1="86.00" y1="1633.20" x2="86.00" y2="1907.80" stroke-width="3.6" />
<line x1="78.00" y1="1635.00" x2="86.00" y2="1635.00" stroke-width="3.6" />
<line x1="78.00" y1="1702.50" x2="86.00" y2="1702.50" stroke-width="3.6" />
<line x1="78.00" y1="1770.00" x2="86.00" y2="1770.00" stroke-width="3.6" />
<line x1="78.00" y1="1837.50" x2="86.00" y2="1837.50" stroke-width="3.6" />
<line x1="78.00" y1="1906.00" x2="86.00" y2="1906.00" stroke-width="3.6" />
<line x1="84.20" y1="1906.00" x2="452.50" y2="1906.00" stroke-width="3.6" />
<line x1="86.00" y1="1906.00" x2="86.00" y2="1912.50" stroke-width="3.6" />
<line x1="175.50" y1="1906.00" x2="175.50" y2="1912.50" stroke-width="3.6" />
<line x1="268.90" y1="1906.00" x2="268.90" y2="1912.50" stroke-width="3.6" />
<line x1="360.50" y1="1906.00" x2="360.50" y2="1912.50" stroke-width="3.6" />
<line x1="452.50" y1="1906.00" x2="452.50" y2="1912.50" stroke-width="3.6" />
<path d="M177.10,1753.10 L268.90,1723.10 L360.50,1713.70" stroke-width="3.6" fill="none" stroke-linejoin="miter"/>
<path d="M177.10,1783.50 L268.90,1746.00 L360.50,1762.40" stroke-width="3.6" fill="none" stroke-linejoin="miter"/>
<path d="M177.10,1773.00 L268.90,1809.30 L360.50,1818.70" stroke-width="3.6" fill="none" stroke-linejoin="miter"/>
<path d="M177.10,1788.00 L268.90,1826.20 L360.50,1843.00" stroke-width="3.6" fill="none" stroke-linejoin="miter"/>
<line x1="177.10" y1="1741.50" x2="177.10" y2="1765.00" stroke-width="3.6" />
<line x1="169.85" y1="1741.50" x2="184.35" y2="1741.50" stroke-width="4.5" />
<line x1="169.85" y1="1765.00" x2="184.35" y2="1765.00" stroke-width="4.5" />
<line x1="360.50" y1="1698.70" x2="360.50" y2="1729.10" stroke-width="3.6" />
<line x1="353.25" y1="1698.70" x2="367.75" y2="1698.70" stroke-width="4.5" />
<line x1="353.25" y1="1729.10" x2="367.75" y2="1729.10" stroke-width="4.5" />
<line x1="268.90" y1="1800.90" x2="268.90" y2="1819.60" stroke-width="3.6" />
<line x1="261.65" y1="1800.90" x2="276.15" y2="1800.90" stroke-width="4.5" />
<line x1="261.65" y1="1819.60" x2="276.15" y2="1819.60" stroke-width="4.5" />
<line x1="360.50" y1="1814.00" x2="360.50" y2="1824.70" stroke-width="3.6" />
<line x1="353.25" y1="1814.00" x2="367.75" y2="1814.00" stroke-width="4.5" />
<line x1="353.25" y1="1824.70" x2="367.75" y2="1824.70" stroke-width="4.5" />
<rect x="172.10" y="1748.10" width="10.00" height="10.00" stroke="none" fill="#000"/>
<rect x="263.90" y="1718.10" width="10.00" height="10.00" stroke="none" fill="#000"/>
<rect x="355.50" y="1708.70" width="10.00" height="10.00" stroke="none" fill="#000"/>
<circle cx="268.90" cy="1746.00" r="5.2" fill="#000" stroke="none"/>
<circle cx="360.50" cy="1762.40" r="5.2" fill="#000" stroke="none"/>
<circle cx="177.10" cy="1783.50" r="5.2" fill="#000" stroke="none"/>
<polygon points="171.10,1768.00 183.10,1768.00 177.10,1778.00" fill="#000" stroke="none"/>
<polygon points="262.90,1804.30 274.90,1804.30 268.90,1814.30" fill="#000" stroke="none"/>
<polygon points="354.50,1813.70 366.50,1813.70 360.50,1823.70" fill="#000" stroke="none"/>
<polygon points="171.10,1793.00 183.10,1793.00 177.10,1783.00" fill="#000" stroke="none"/>
<polygon points="262.90,1831.20 274.90,1831.20 268.90,1821.20" fill="#000" stroke="none"/>
<polygon points="354.50,1848.00 366.50,1848.00 360.50,1838.00" fill="#000" stroke="none"/>
<rect x="170.50" y="1792.00" width="13.00" height="8.75" stroke="none" fill="#000"/>
<rect x="170.50" y="1771.50" width="13.00" height="9.00" stroke="none" fill="#000"/>
<line x1="380.20" y1="1713.40" x2="380.20" y2="1761.90" stroke-width="3.8" />
<line x1="371.80" y1="1713.40" x2="388.60" y2="1713.40" stroke-width="4.5" />
<line x1="371.80" y1="1761.90" x2="388.60" y2="1761.90" stroke-width="4.5" />
<line x1="415.00" y1="1653.00" x2="441.25" y2="1653.00" stroke-width="3.4" />
<rect x="422.88" y="1649.10" width="10.50" height="7.80" stroke="none" fill="#000"/>
<line x1="415.00" y1="1683.25" x2="441.25" y2="1683.25" stroke-width="3.4" />
<circle cx="428.12" cy="1683.25" r="4.6" fill="#000" stroke="none"/>
<line x1="413.75" y1="1716.25" x2="440.50" y2="1716.25" stroke-width="3.4" />
<polygon points="421.62,1711.75 432.62,1711.75 427.12,1720.75" fill="#000" stroke="none"/>
<line x1="415.00" y1="1750.75" x2="441.25" y2="1750.75" stroke-width="3.4" />
<polygon points="422.62,1755.25 433.62,1755.25 428.12,1746.25" fill="#000" stroke="none"/>
<line x1="863.90" y1="1636.50" x2="863.90" y2="1905.50" stroke-width="3.6" />
<line x1="855.90" y1="1638.30" x2="863.90" y2="1638.30" stroke-width="3.6" />
<line x1="855.90" y1="1704.40" x2="863.90" y2="1704.40" stroke-width="3.6" />
<line x1="855.90" y1="1771.00" x2="863.90" y2="1771.00" stroke-width="3.6" />
<line x1="855.90" y1="1836.60" x2="863.90" y2="1836.60" stroke-width="3.6" />
<line x1="855.90" y1="1903.70" x2="863.90" y2="1903.70" stroke-width="3.6" />
<line x1="862.00" y1="1903.70" x2="1246.90" y2="1903.70" stroke-width="3.6" />
<line x1="863.90" y1="1903.70" x2="863.90" y2="1910.00" stroke-width="3.6" />
<line x1="960.40" y1="1903.70" x2="960.40" y2="1910.00" stroke-width="3.6" />
<line x1="1055.50" y1="1903.70" x2="1055.50" y2="1910.00" stroke-width="3.6" />
<line x1="1151.10" y1="1903.70" x2="1151.10" y2="1910.00" stroke-width="3.6" />
<line x1="1246.90" y1="1903.70" x2="1246.90" y2="1910.00" stroke-width="3.6" />
<path d="M960.40,1781.20 L1055.50,1740.00 L1151.10,1695.40" stroke-width="3.6" fill="none" stroke-linejoin="miter"/>
<path d="M960.40,1805.20 L1055.50,1772.40 L1151.10,1740.90" stroke-width="3.6" fill="none" stroke-linejoin="miter"/>
<path d="M960.40,1874.90 L1055.50,1888.00 L1151.10,1872.10" stroke-width="3.6" fill="none" stroke-linejoin="miter"/>
<path d="M960.40,1892.50 L1055.50,1888.90 L1151.10,1883.30" stroke-width="3.6" fill="none" stroke-linejoin="miter"/>
<line x1="1055.50" y1="1731.50" x2="1055.50" y2="1748.40" stroke-width="3.6" />
<line x1="1048.25" y1="1731.50" x2="1062.75" y2="1731.50" stroke-width="4.5" />
<line x1="1048.25" y1="1748.40" x2="1062.75" y2="1748.40" stroke-width="4.5" />
<line x1="1055.50" y1="1762.00" x2="1055.50" y2="1783.40" stroke-width="3.6" />
<line x1="1048.25" y1="1762.00" x2="1062.75" y2="1762.00" stroke-width="4.5" />
<line x1="1048.25" y1="1783.40" x2="1062.75" y2="1783.40" stroke-width="4.5" />
<line x1="1151.10" y1="1730.20" x2="1151.10" y2="1751.60" stroke-width="3.6" />
<line x1="1143.85" y1="1730.20" x2="1158.35" y2="1730.20" stroke-width="4.5" />
<line x1="1143.85" y1="1751.60" x2="1158.35" y2="1751.60" stroke-width="4.5" />
<line x1="960.40" y1="1886.00" x2="960.40" y2="1901.00" stroke-width="3.6" />
<line x1="953.15" y1="1886.00" x2="967.65" y2="1886.00" stroke-width="4.5" />
<line x1="953.15" y1="1901.00" x2="967.65" y2="1901.00" stroke-width="4.5" />
<line x1="1055.50" y1="1882.40" x2="1055.50" y2="1893.60" stroke-width="3.6" />
<line x1="1048.25" y1="1882.40" x2="1062.75" y2="1882.40" stroke-width="4.5" />
<line x1="1048.25" y1="1893.60" x2="1062.75" y2="1893.60" stroke-width="4.5" />
<line x1="1151.10" y1="1877.70" x2="1151.10" y2="1889.50" stroke-width="3.6" />
<line x1="1143.85" y1="1877.70" x2="1158.35" y2="1877.70" stroke-width="4.5" />
<line x1="1143.85" y1="1889.50" x2="1158.35" y2="1889.50" stroke-width="4.5" />
<rect x="955.40" y="1776.20" width="10.00" height="10.00" stroke="none" fill="#000"/>
<rect x="1050.50" y="1735.00" width="10.00" height="10.00" stroke="none" fill="#000"/>
<rect x="1146.10" y="1690.40" width="10.00" height="10.00" stroke="none" fill="#000"/>
<circle cx="960.40" cy="1805.20" r="5.2" fill="#000" stroke="none"/>
<circle cx="1055.50" cy="1772.40" r="5.2" fill="#000" stroke="none"/>
<circle cx="1151.10" cy="1740.90" r="5.2" fill="#000" stroke="none"/>
<polygon points="954.40,1879.90 966.40,1879.90 960.40,1869.90" fill="#000" stroke="none"/>
<polygon points="1049.50,1893.00 1061.50,1893.00 1055.50,1883.00" fill="#000" stroke="none"/>
<polygon points="1145.10,1877.10 1157.10,1877.10 1151.10,1867.10" fill="#000" stroke="none"/>
<polygon points="954.40,1887.50 966.40,1887.50 960.40,1897.50" fill="#000" stroke="none"/>
<polygon points="1049.50,1883.90 1061.50,1883.90 1055.50,1893.90" fill="#000" stroke="none"/>
<polygon points="1145.10,1878.30 1157.10,1878.30 1151.10,1888.30" fill="#000" stroke="none"/>
<line x1="1179.20" y1="1693.10" x2="1179.20" y2="1739.60" stroke-width="3.8" />
<line x1="1170.10" y1="1693.10" x2="1188.30" y2="1693.10" stroke-width="4.5" />
<line x1="1170.10" y1="1739.60" x2="1188.30" y2="1739.60" stroke-width="4.5" />
<line x1="1215.00" y1="1655.00" x2="1243.50" y2="1655.00" stroke-width="3.4" />
<rect x="1224.00" y="1651.10" width="10.50" height="7.80" stroke="none" fill="#000"/>
<line x1="1215.00" y1="1685.50" x2="1243.50" y2="1685.50" stroke-width="3.4" />
<circle cx="1229.25" cy="1685.50" r="4.6" fill="#000" stroke="none"/>
<line x1="1215.00" y1="1722.50" x2="1243.50" y2="1722.50" stroke-width="3.4" />
<polygon points="1223.75,1718.00 1234.75,1718.00 1229.25,1727.00" fill="#000" stroke="none"/>
<line x1="1215.00" y1="1755.50" x2="1243.50" y2="1755.50" stroke-width="3.4" />
<polygon points="1223.75,1760.00 1234.75,1760.00 1229.25,1751.00" fill="#000" stroke="none"/>
<line x1="126.50" y1="2018.20" x2="126.50" y2="2265.80" stroke-width="3.6" />
<line x1="118.50" y1="2020.00" x2="126.50" y2="2020.00" stroke-width="3.6" />
<line x1="118.50" y1="2081.00" x2="126.50" y2="2081.00" stroke-width="3.6" />
<line x1="118.50" y1="2141.50" x2="126.50" y2="2141.50" stroke-width="3.6" />
<line x1="118.50" y1="2202.50" x2="126.50" y2="2202.50" stroke-width="3.6" />
<line x1="118.50" y1="2264.00" x2="126.50" y2="2264.00" stroke-width="3.6" />
<line x1="124.70" y1="2264.00" x2="494.00" y2="2264.00" stroke-width="3.6" />
<line x1="126.50" y1="2264.00" x2="126.50" y2="2271.00" stroke-width="3.6" />
<line x1="218.10" y1="2264.00" x2="218.10" y2="2271.00" stroke-width="3.6" />
<line x1="309.90" y1="2264.00" x2="309.90" y2="2271.00" stroke-width="3.6" />
<line x1="401.40" y1="2264.00" x2="401.40" y2="2271.00" stroke-width="3.6" />
<line x1="494.00" y1="2264.00" x2="494.00" y2="2271.00" stroke-width="3.6" />
<path d="M218.10,2133.70 L309.90,2079.30 L401.40,2067.20" stroke-width="3.6" fill="none" stroke-linejoin="miter"/>
<path d="M218.10,2184.30 L309.90,2181.50 L401.40,2187.10" stroke-width="3.6" fill="none" stroke-linejoin="miter"/>
<path d="M218.10,2177.70 L309.90,2202.10 L401.40,2224.60" stroke-width="3.6" fill="none" stroke-linejoin="miter"/>
<path d="M218.10,2208.30 L309.90,2228.30 L401.40,2240.10" stroke-width="3.6" fill="none" stroke-linejoin="miter"/>
<line x1="218.10" y1="2120.20" x2="218.10" y2="2147.40" stroke-width="3.6" />
<line x1="211.25" y1="2120.20" x2="224.95" y2="2120.20" stroke-width="4.5" />
<line x1="211.25" y1="2147.40" x2="224.95" y2="2147.40" stroke-width="4.5" />
<line x1="309.90" y1="2069.00" x2="309.90" y2="2090.60" stroke-width="3.6" />
<line x1="303.05" y1="2069.00" x2="316.75" y2="2069.00" stroke-width="4.5" />
<line x1="303.05" y1="2090.60" x2="316.75" y2="2090.60" stroke-width="4.5" />
<line x1="401.40" y1="2056.50" x2="401.40" y2="2078.40" stroke-width="3.6" />
<line x1="394.55" y1="2056.50" x2="408.25" y2="2056.50" stroke-width="4.5" />
<line x1="394.55" y1="2078.40" x2="408.25" y2="2078.40" stroke-width="4.5" />
<line x1="309.90" y1="2175.80" x2="309.90" y2="2187.10" stroke-width="3.6" />
<line x1="303.05" y1="2175.80" x2="316.75" y2="2175.80" stroke-width="4.5" />
<line x1="303.05" y1="2187.10" x2="316.75" y2="2187.10" stroke-width="4.5" />
<line x1="401.40" y1="2177.70" x2="401.40" y2="2195.50" stroke-width="3.6" />
<line x1="394.55" y1="2177.70" x2="408.25" y2="2177.70" stroke-width="4.5" />
<line x1="394.55" y1="2195.50" x2="408.25" y2="2195.50" stroke-width="4.5" />
<line x1="218.10" y1="2175.00" x2="218.10" y2="2190.00" stroke-width="3.6" />
<line x1="211.25" y1="2175.00" x2="224.95" y2="2175.00" stroke-width="4.5" />
<line x1="211.25" y1="2190.00" x2="224.95" y2="2190.00" stroke-width="4.5" />
<line x1="309.90" y1="2222.70" x2="309.90" y2="2233.90" stroke-width="3.6" />
<line x1="303.05" y1="2222.70" x2="316.75" y2="2222.70" stroke-width="4.5" />
<line x1="303.05" y1="2233.90" x2="316.75" y2="2233.90" stroke-width="4.5" />
<rect x="213.10" y="2128.70" width="10.00" height="10.00" stroke="none" fill="#000"/>
<rect x="304.90" y="2074.30" width="10.00" height="10.00" stroke="none" fill="#000"/>
<rect x="396.40" y="2062.20" width="10.00" height="10.00" stroke="none" fill="#000"/>
<circle cx="218.10" cy="2184.30" r="5.2" fill="#000" stroke="none"/>
<circle cx="309.90" cy="2181.50" r="5.2" fill="#000" stroke="none"/>
<circle cx="401.40" cy="2187.10" r="5.2" fill="#000" stroke="none"/>
<polygon points="210.10,2169.90 226.10,2169.90 218.10,2185.50" fill="#000" stroke="none"/>
<polygon points="216.90,2173.93 219.30,2173.93 218.10,2176.27" fill="#fff" stroke="none"/>
<polygon points="301.90,2194.30 317.90,2194.30 309.90,2209.90" fill="#000" stroke="none"/>
<polygon points="308.70,2198.33 311.10,2198.33 309.90,2200.67" fill="#fff" stroke="none"/>
<polygon points="393.40,2216.80 409.40,2216.80 401.40,2232.40" fill="#000" stroke="none"/>
<polygon points="400.20,2220.83 402.60,2220.83 401.40,2223.17" fill="#fff" stroke="none"/>
<polygon points="210.10,2215.00 226.10,2215.00 218.10,2199.40" fill="#000" stroke="none"/>
<polygon points="216.90,2210.97 219.30,2210.97 218.10,2208.63" fill="#fff" stroke="none"/>
<polygon points="301.90,2236.10 317.90,2236.10 309.90,2220.50" fill="#000" stroke="none"/>
<polygon points="308.70,2232.07 311.10,2232.07 309.90,2229.73" fill="#fff" stroke="none"/>
<polygon points="393.40,2247.90 409.40,2247.90 401.40,2232.30" fill="#000" stroke="none"/>
<polygon points="400.20,2243.87 402.60,2243.87 401.40,2241.53" fill="#fff" stroke="none"/>
<line x1="418.20" y1="2066.20" x2="418.20" y2="2188.00" stroke-width="3.8" />
<line x1="409.55" y1="2066.20" x2="426.85" y2="2066.20" stroke-width="4.5" />
<line x1="409.55" y1="2188.00" x2="426.85" y2="2188.00" stroke-width="4.5" />
<line x1="474.00" y1="2109.00" x2="500.00" y2="2109.00" stroke-width="3.2" />
<rect x="481.85" y="2104.30" width="10.30" height="9.40" stroke="none" fill="#000"/>
<line x1="474.00" y1="2136.50" x2="500.00" y2="2136.50" stroke-width="3.2" />
<circle cx="487.00" cy="2136.50" r="4.8" fill="#000" stroke="none"/>
<line x1="474.00" y1="2165.00" x2="500.00" y2="2165.00" stroke-width="3.2" />
<polygon points="479.00,2157.25 495.00,2157.25 487.00,2172.75" fill="#000" stroke="none"/>
<polygon points="485.80,2161.25 488.20,2161.25 487.00,2163.58" fill="#fff" stroke="none"/>
<line x1="474.00" y1="2192.50" x2="500.00" y2="2192.50" stroke-width="3.2" />
<polygon points="479.00,2199.25 495.00,2199.25 487.00,2183.75" fill="#000" stroke="none"/>
<polygon points="485.80,2195.25 488.20,2195.25 487.00,2192.92" fill="#fff" stroke="none"/>
<line x1="679.00" y1="2101.00" x2="679.00" y2="2144.00" stroke-width="4" />
<line x1="679.00" y1="2156.00" x2="679.00" y2="2200.00" stroke-width="4" />
<line x1="868.10" y1="1978.80" x2="868.10" y2="2266.00" stroke-width="3.6" />
<line x1="860.10" y1="1980.60" x2="868.10" y2="1980.60" stroke-width="3.6" />
<line x1="860.10" y1="2037.50" x2="868.10" y2="2037.50" stroke-width="3.6" />
<line x1="860.10" y1="2094.50" x2="868.10" y2="2094.50" stroke-width="3.6" />
<line x1="860.10" y1="2150.90" x2="868.10" y2="2150.90" stroke-width="3.6" />
<line x1="860.10" y1="2207.80" x2="868.10" y2="2207.80" stroke-width="3.6" />
<line x1="860.10" y1="2264.20" x2="868.10" y2="2264.20" stroke-width="3.6" />
<line x1="866.30" y1="2263.40" x2="1296.60" y2="2263.40" stroke-width="3.6" />
<line x1="868.10" y1="2263.40" x2="868.10" y2="2273.30" stroke-width="3.6" />
<line x1="975.60" y1="2263.40" x2="975.60" y2="2273.30" stroke-width="3.6" />
<line x1="1082.40" y1="2263.40" x2="1082.40" y2="2273.30" stroke-width="3.6" />
<line x1="1188.80" y1="2263.40" x2="1188.80" y2="2273.30" stroke-width="3.6" />
<line x1="1296.60" y1="2263.40" x2="1296.60" y2="2273.30" stroke-width="3.6" />
<path d="M975.60,2180.60 L1082.40,2124.00 L1188.80,2007.20" stroke-width="3.6" fill="none" stroke-linejoin="miter"/>
<path d="M975.60,2188.60 L1082.40,2187.00 L1188.80,2125.30" stroke-width="3.6" fill="none" stroke-linejoin="miter"/>
<path d="M975.60,2220.00 L1082.40,2191.80 L1188.80,2198.10" stroke-width="3.6" fill="none" stroke-linejoin="miter"/>
<path d="M975.60,2172.20 L1082.40,2207.80 L1188.80,2221.00" stroke-width="3.6" fill="none" stroke-linejoin="miter"/>
<line x1="975.60" y1="2146.50" x2="975.60" y2="2198.40" stroke-width="3.6" />
<line x1="968.10" y1="2146.50" x2="983.10" y2="2146.50" stroke-width="4.5" />
<line x1="968.10" y1="2198.40" x2="983.10" y2="2198.40" stroke-width="4.5" />
<line x1="1082.40" y1="2112.70" x2="1082.40" y2="2138.00" stroke-width="3.6" />
<line x1="1074.90" y1="2112.70" x2="1089.90" y2="2112.70" stroke-width="4.5" />
<line x1="1074.90" y1="2138.00" x2="1089.90" y2="2138.00" stroke-width="4.5" />
<line x1="1188.80" y1="2001.20" x2="1188.80" y2="2012.90" stroke-width="3.6" />
<line x1="1181.30" y1="2001.20" x2="1196.30" y2="2001.20" stroke-width="4.5" />
<line x1="1181.30" y1="2012.90" x2="1196.30" y2="2012.90" stroke-width="4.5" />
<line x1="1188.80" y1="2116.50" x2="1188.80" y2="2135.20" stroke-width="3.6" />
<line x1="1181.30" y1="2116.50" x2="1196.30" y2="2116.50" stroke-width="4.5" />
<line x1="1181.30" y1="2135.20" x2="1196.30" y2="2135.20" stroke-width="4.5" />
<line x1="1082.40" y1="2178.30" x2="1082.40" y2="2205.00" stroke-width="3.6" />
<line x1="1074.90" y1="2178.30" x2="1089.90" y2="2178.30" stroke-width="4.5" />
<line x1="1074.90" y1="2205.00" x2="1089.90" y2="2205.00" stroke-width="4.5" />
<rect x="970.60" y="2175.60" width="10.00" height="10.00" stroke="none" fill="#000"/>
<rect x="1077.40" y="2119.00" width="10.00" height="10.00" stroke="none" fill="#000"/>
<rect x="1183.80" y="2002.20" width="10.00" height="10.00" stroke="none" fill="#000"/>
<circle cx="975.60" cy="2188.60" r="5.5" fill="#000" stroke="none"/>
<circle cx="1082.40" cy="2199.00" r="6" fill="#000" stroke="none"/>
<circle cx="1188.80" cy="2125.30" r="5.5" fill="#000" stroke="none"/>
<polygon points="966.35,2229.00 984.85,2229.00 975.60,2211.00" fill="#000" stroke="none"/>
<polygon points="974.21,2224.35 976.99,2224.35 975.60,2221.65" fill="#fff" stroke="none"/>
<polygon points="1073.15,2200.80 1091.65,2200.80 1082.40,2182.80" fill="#000" stroke="none"/>
<polygon points="1081.01,2196.15 1083.79,2196.15 1082.40,2193.45" fill="#fff" stroke="none"/>
<polygon points="1179.75,2207.10 1198.25,2207.10 1189.00,2189.10" fill="#000" stroke="none"/>
<polygon points="1187.61,2202.45 1190.39,2202.45 1189.00,2199.75" fill="#fff" stroke="none"/>
<polygon points="966.35,2163.20 984.85,2163.20 975.60,2181.20" fill="#000" stroke="none"/>
<polygon points="974.21,2167.85 976.99,2167.85 975.60,2170.55" fill="#fff" stroke="none"/>
<polygon points="1073.15,2198.80 1091.65,2198.80 1082.40,2216.80" fill="#000" stroke="none"/>
<polygon points="1081.01,2203.45 1083.79,2203.45 1082.40,2206.15" fill="#fff" stroke="none"/>
<polygon points="1179.75,2212.00 1198.25,2212.00 1189.00,2230.00" fill="#000" stroke="none"/>
<polygon points="1187.61,2216.65 1190.39,2216.65 1189.00,2219.35" fill="#fff" stroke="none"/>
<line x1="1205.40" y1="2007.50" x2="1205.40" y2="2128.70" stroke-width="3.8" />
<line x1="1196.40" y1="2007.50" x2="1214.40" y2="2007.50" stroke-width="4.5" />
<line x1="1196.40" y1="2128.70" x2="1214.40" y2="2128.70" stroke-width="4.5" />
<line x1="1276.20" y1="2078.10" x2="1307.90" y2="2078.10" stroke-width="2.9" />
<rect x="1286.25" y="2072.30" width="11.60" height="11.60" stroke="none" fill="#000"/>
<line x1="1276.20" y1="2110.60" x2="1307.90" y2="2110.60" stroke-width="2.9" />
<circle cx="1292.05" cy="2110.60" r="5.8" fill="#000" stroke="none"/>
<line x1="1276.20" y1="2140.40" x2="1307.90" y2="2140.40" stroke-width="2.9" />
<polygon points="1282.55,2148.75 1301.55,2148.75 1292.05,2130.05" fill="#000" stroke="none"/>
<polygon points="1290.63,2143.92 1293.48,2143.92 1292.05,2141.11" fill="#fff" stroke="none"/>
<line x1="1276.20" y1="2169.50" x2="1307.90" y2="2169.50" stroke-width="2.9" />
<polygon points="1282.55,2160.15 1301.55,2160.15 1292.05,2178.85" fill="#000" stroke="none"/>
<polygon points="1290.63,2164.98 1293.48,2164.98 1292.05,2167.79" fill="#fff" stroke="none"/>
<line x1="1521.70" y1="2065.00" x2="1521.70" y2="2112.90" stroke-width="4" />
<line x1="1521.70" y1="2128.70" x2="1521.70" y2="2177.20" stroke-width="4" />
</svg>
</body></html>
